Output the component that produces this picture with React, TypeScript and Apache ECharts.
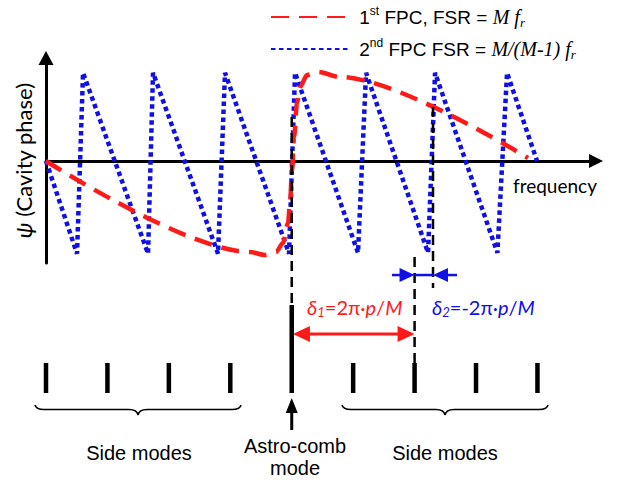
import React, { useEffect, useRef } from "react";
import * as echarts from "echarts";

// ---- data (x: frequency in units of the 1st FPC FSR, 0 = astro-comb mode; y: phase) ----
const redName = "1st FPC";
const blueName = "2nd FPC";

const redX = [-4, -0.679, -0.435, -0.256, -0.142, -0.06, -0.028, 0.005, 0.037, 0.086, 0.135, 0.249, 0.428, 0.786, 3.846];
const redY = [0, -1.011, -1.044, -1.011, -0.911, -0.689, -0.467, -0.1, 0.267, 0.644, 0.822, 0.956, 0.989, 0.933, 0.033];

const blueX = [-4, -3.495, -3.397, -2.339, -2.258, -1.2, -1.086, -0.044, 0.054, 1.079, 1.21, 2.219, 2.333, 3.348, 3.505, 3.993];
const blueY = [0, -1.03, 0.98, -1.03, 0.98, -1.03, 0.98, -1.03, 0.98, -1.02, 0.98, -1.02, 0.98, -1.02, 0.98, 0];

const sideModeX = [-4, -3, -2, -1, 1, 2, 3, 4];
const astroModeX = [0];

// guide lines [x, yFrom, yTo]
const dashedGuides = [
  [0, 0.489, -1.6],
  [2.0, -1.067, -2.244],
  [2.3, 0.6, -1.411],
];
// arrows [x1, y1, x2, y2, heads(0 none, 1 end, 2 both)]
const redArrows = [[0.02, -1.922, 2.0, -1.922, 2]];
const blueArrows = [
  [1.631, -1.267, 2.0, -1.267, 1],
  [2.0, -1.267, 2.3, -1.267, 0],
  [2.69, -1.267, 2.3, -1.267, 1],
];
const blackArrows = [[0, -2.989, 0, -2.633, 1]];
// braces [x0, x1, yTop, yTip]
const braces = [
  [-4.179, -0.825, -2.711, -2.822],
  [0.819, 4.172, -2.711, -2.822],
];

const modeTickTop = -2.244;
const modeTickBottom = -2.578;
const astroLineTop = -1.6;

const RED = "#ff1a1a";
const BLUE = "#0f0fe6";

const legendRich: Record<string, string> = {
  [redName]: " 1{sup|st} FPC, FSR = {m|M f}{sub|r}",
  [blueName]: " 2{sup|nd} FPC FSR = {m|M/(M-1) f}{sub|r}",
};

function segRenderer(color: string, width: number, dash: number[] | null, headLen: number, headW: number) {
  return (params: any, api: any) => {
    const a = api.coord([api.value(0), api.value(1)]);
    const b = api.coord([api.value(2), api.value(3)]);
    const heads = api.value(4) || 0;
    const dx = b[0] - a[0];
    const dy = b[1] - a[1];
    const len = Math.hypot(dx, dy) || 1;
    const ux = dx / len;
    const uy = dy / len;
    const nx = -uy;
    const ny = ux;
    const children: any[] = [];
    const head = (tip: number[], dirx: number, diry: number) => ({
      type: "polygon",
      shape: {
        points: [
          [tip[0], tip[1]],
          [tip[0] - dirx * headLen + (nx * headW) / 2, tip[1] - diry * headLen + (ny * headW) / 2],
          [tip[0] - dirx * headLen - (nx * headW) / 2, tip[1] - diry * headLen - (ny * headW) / 2],
        ],
      },
      style: { fill: color },
    });
    let s = a;
    let e = b;
    if (heads >= 1) {
      e = [b[0] - ux * headLen * 0.8, b[1] - uy * headLen * 0.8];
      children.push(head(b, ux, uy));
    }
    if (heads >= 2) {
      s = [a[0] + ux * headLen * 0.8, a[1] + uy * headLen * 0.8];
      children.push(head(a, -ux, -uy));
    }
    children.unshift({
      type: "line",
      shape: { x1: s[0], y1: s[1], x2: e[0], y2: e[1] },
      style: { stroke: color, lineWidth: width, lineDash: dash || undefined, lineCap: "butt" },
    });
    return { type: "group", children };
  };
}

function braceRenderer(params: any, api: any) {
  const p0 = api.coord([api.value(0), api.value(2)]);
  const p1 = api.coord([api.value(1), api.value(2)]);
  const pt = api.coord([api.value(0), api.value(3)]);
  const X0 = p0[0];
  const X1 = p1[0];
  const Yt = p0[1];
  const Yb = pt[1];
  const Ym = Yt + (Yb - Yt) * 0.45;
  const C = (X0 + X1) / 2;
  const r = 9;
  const st = { stroke: "#000", lineWidth: 1.6, fill: null };
  return {
    type: "group",
    children: [
      { type: "bezierCurve", shape: { x1: X0, y1: Yt, cpx1: X0 + 1, cpy1: Ym, x2: X0 + r, y2: Ym }, style: st },
      { type: "line", shape: { x1: X0 + r, y1: Ym, x2: C - r, y2: Ym }, style: st },
      { type: "bezierCurve", shape: { x1: C - r, y1: Ym, cpx1: C - 1, cpy1: Ym, x2: C, y2: Yb }, style: st },
      { type: "bezierCurve", shape: { x1: C, y1: Yb, cpx1: C + 1, cpy1: Ym, x2: C + r, y2: Ym }, style: st },
      { type: "line", shape: { x1: C + r, y1: Ym, x2: X1 - r, y2: Ym }, style: st },
      { type: "bezierCurve", shape: { x1: X1 - r, y1: Ym, cpx1: X1 - 1, cpy1: Ym, x2: X1, y2: Yt }, style: st },
    ],
  };
}

function customSeries(name: string, data: number[][], renderItem: any, z = 3) {
  return {
    name,
    type: "custom",
    coordinateSystem: "cartesian2d",
    xAxisIndex: 1,
    yAxisIndex: 1,
    clip: false,
    silent: true,
    z,
    renderItem,
    encode: { x: [0, 1], y: [2, 3] },
    data,
  };
}

export default function App() {
  const ref = useRef<HTMLDivElement>(null);

  useEffect(() => {
    if (!ref.current) return;
    const chart = echarts.init(ref.current, null, { renderer: "svg" });

    const guideData = dashedGuides.map((g) => [g[0], g[1], g[0], g[2], 0]);
    const tickData = sideModeX.map((x) => [x, modeTickTop, x, modeTickBottom, 0]);
    const astroData = astroModeX.map((x) => [x, astroLineTop, x, modeTickBottom, 0]);

    const mathFont = "Lato";
    const deltaRich = (color: string) => ({
      n: { fontFamily: mathFont, fontSize: 20, fill: color, color },
      i: { fontFamily: mathFont, fontStyle: "italic", fontSize: 20, fill: color, color },
      s: { fontFamily: mathFont, fontStyle: "italic", fontSize: 13, fill: color, color, padding: [9, 0, 0, 0] },
    });

    const option: any = {
      animation: false,
      backgroundColor: "#fff",
      grid: [
        { left: 46, right: 21, top: 58, bottom: 217, containLabel: false, outerBoundsMode: "none" },
        { left: 46, right: 21, top: 0, bottom: 0, containLabel: false, outerBoundsMode: "none" },
      ],
      xAxis: [
        {
          gridIndex: 0,
          type: "value",
          min: -4,
          max: 4.953,
          axisLine: {
            show: true,
            onZero: true,
            symbol: ["none", "triangle"],
            symbolSize: [14, 14],
            lineStyle: { color: "#000", width: 3 },
          },
          axisTick: { show: false },
          axisLabel: { show: false },
          splitLine: { show: false },
        },
        { gridIndex: 1, type: "value", min: -4, max: 4.953, show: false },
      ],
      yAxis: [
        {
          gridIndex: 0,
          type: "value",
          min: -1.1333,
          max: 1.1444,
          name: "{i|ψ} (Cavity phase)",
          nameLocation: "middle",
          nameRotate: 90,
          nameGap: 12,
          nameTextStyle: {
            fontFamily: "Lato",
            fontSize: 22,
            color: "#000",
            rich: { i: { fontFamily: "Lato", fontStyle: "italic", fontSize: 22, color: "#000" } },
          },
          axisLine: {
            show: true,
            onZero: false,
            symbol: ["none", "triangle"],
            symbolSize: [15, 14],
            lineStyle: { color: "#000", width: 3 },
          },
          axisTick: { show: false },
          axisLabel: { show: false },
          splitLine: { show: false },
        },
        { gridIndex: 1, type: "value", min: -3.5444, max: 1.7889, show: false },
      ],
      legend: {
        orient: "vertical",
        left: 270,
        top: 5,
        padding: 0,
        itemGap: 8,
        itemWidth: 78,
        itemHeight: 14,
        selectedMode: false,
        itemStyle: { color: "rgba(0,0,0,0)", borderWidth: 0, borderColor: "rgba(0,0,0,0)" },
        data: [redName, blueName],
        formatter: (n: string) => legendRich[n],
        textStyle: {
          fontFamily: "Liberation Sans",
          fontSize: 19,
          color: "#000",
          lineHeight: 24,
          rich: {
            sup: { fontFamily: "Liberation Sans", fontSize: 12, verticalAlign: "top", lineHeight: 14, color: "#000" },
            m: { fontFamily: "Liberation Serif", fontStyle: "italic", fontSize: 20, color: "#000" },
            sub: { fontFamily: "Liberation Serif", fontStyle: "italic", fontSize: 13, verticalAlign: "bottom", lineHeight: 10, color: "#000" },
          },
        },
      },
      series: [
        {
          name: blueName,
          type: "line",
          xAxisIndex: 0,
          yAxisIndex: 0,
          data: blueX.map((x, i) => [x, blueY[i]]),
          symbol: "none",
          z: 2,
          lineStyle: { color: BLUE, width: 4.5, type: [4.5, 3.5], cap: "butt" },
          itemStyle: { color: BLUE },
        },
        {
          name: redName,
          type: "line",
          xAxisIndex: 0,
          yAxisIndex: 0,
          data: redX.map((x, i) => [x, redY[i]]),
          symbol: "none",
          smooth: 0.3,
          smoothMonotone: "x",
          z: 3,
          lineStyle: { color: RED, width: 4.5, type: [18, 10], cap: "butt" },
          itemStyle: { color: RED },
        },
        customSeries("guides", guideData, segRenderer("#000", 2.5, [10, 6], 0, 0), 4),
        customSeries("side modes", tickData, segRenderer("#000", 4.5, null, 0, 0), 4),
        customSeries("astro mode", astroData, segRenderer("#000", 4.5, null, 0, 0), 4),
        customSeries("delta1", redArrows, segRenderer(RED, 3, null, 17, 16), 5),
        customSeries("delta2", blueArrows, segRenderer(BLUE, 2.5, null, 15, 14), 5),
        customSeries("astro arrow", blackArrows, segRenderer("#000", 3, null, 15, 12), 5),
        customSeries("braces", braces, braceRenderer, 4),
      ],
      graphic: [
        {
          type: "text",
          x: 513,
          y: 185,
          style: { text: "frequency", fontFamily: "Lato", fontSize: 19, fill: "#000", align: "left", verticalAlign: "middle" },
        },
        {
          type: "text",
          x: 307,
          y: 307,
          style: {
            text: "{i|δ}{s|1}{n|=2π·}{i|p}{n|/}{i|M}",
            fill: RED,
            fontFamily: mathFont,
            fontSize: 20,
            align: "left",
            verticalAlign: "middle",
            rich: deltaRich(RED),
          },
        },
        {
          type: "text",
          x: 432,
          y: 307,
          style: {
            text: "{i|δ}{s|2}{n|=-2π·}{i|p}{n|/}{i|M}",
            fill: BLUE,
            fontFamily: mathFont,
            fontSize: 20,
            align: "left",
            verticalAlign: "middle",
            rich: deltaRich(BLUE),
          },
        },
        {
          type: "text",
          x: 139,
          y: 453,
          style: { text: "Side modes", fontFamily: "Liberation Sans", fontSize: 20, fill: "#000", align: "center", verticalAlign: "middle" },
        },
        {
          type: "text",
          x: 445,
          y: 453,
          style: { text: "Side modes", fontFamily: "Liberation Sans", fontSize: 20, fill: "#000", align: "center", verticalAlign: "middle" },
        },
        {
          type: "text",
          x: 295,
          y: 446,
          style: { text: "Astro-comb", fontFamily: "Liberation Sans", fontSize: 20, fill: "#000", align: "center", verticalAlign: "middle" },
        },
        {
          type: "text",
          x: 295,
          y: 468,
          style: { text: "mode", fontFamily: "Liberation Sans", fontSize: 20, fill: "#000", align: "center", verticalAlign: "middle" },
        },
      ],
    };

    chart.setOption(option);
    return () => chart.dispose();
  }, []);

  return <div ref={ref} style={{ position: "absolute", left: 0, top: 0, width: 617, height: 480 }} />;
}
